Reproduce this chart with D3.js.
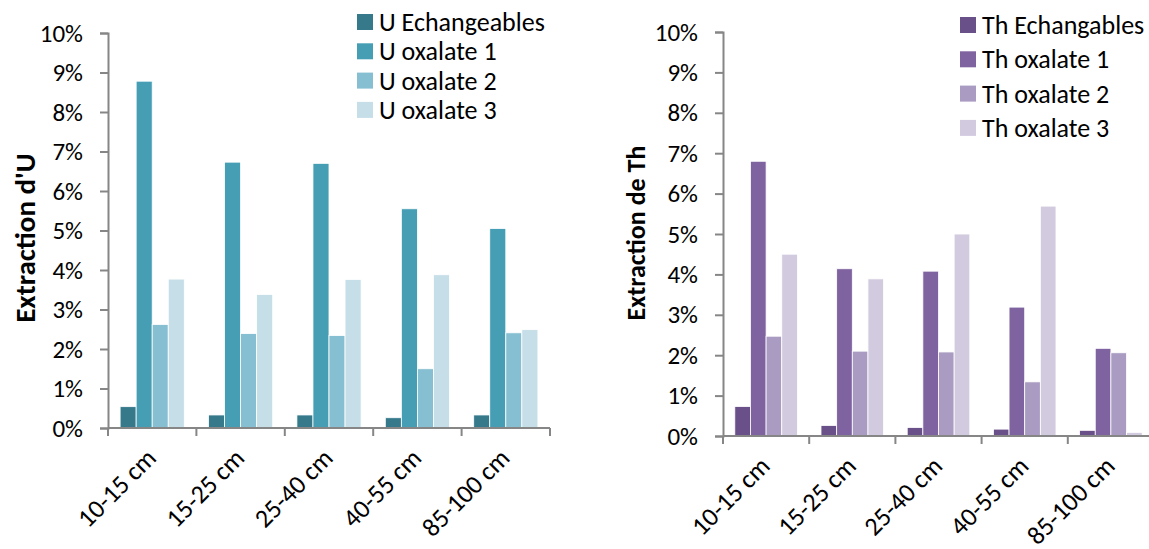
<!DOCTYPE html>
<html>
<head>
<meta charset="utf-8">
<script src="https://cdn.jsdelivr.net/npm/d3@7"></script>
<style>
  html, body { margin: 0; padding: 0; background: #fff; }
  svg { display: block; }
  text { font-family: Carlito, Lato, "Open Sans", sans-serif; fill: #000; }
</style>
</head>
<body>
<svg id="chart" width="1149" height="549"></svg>
<script>
// ---- data ----
const categories = ["10-15 cm", "15-25 cm", "25-40 cm", "40-55 cm", "85-100 cm"];
const yTicks = [0, 0.01, 0.02, 0.03, 0.04, 0.05, 0.06, 0.07, 0.08, 0.09, 0.10];

const uSeriesNames = ["U Echangeables", "U oxalate 1", "U oxalate 2", "U oxalate 3"];
const uEchangeables = [0.0054, 0.0033, 0.0033, 0.0026, 0.0033];
const uOxalate1     = [0.0878, 0.0673, 0.0670, 0.0555, 0.0505];
const uOxalate2     = [0.0262, 0.0239, 0.0234, 0.0150, 0.0241];
const uOxalate3     = [0.0377, 0.0338, 0.0376, 0.0388, 0.0249];
const uColors = ["#35798b", "#469eb5", "#87bfd2", "#c6dee7"];

const thSeriesNames = ["Th Echangables", "Th oxalate 1", "Th oxalate 2", "Th oxalate 3"];
const thEchangables = [0.0073, 0.0026, 0.0021, 0.0017, 0.0014];
const thOxalate1    = [0.0680, 0.0414, 0.0408, 0.0319, 0.0217];
const thOxalate2    = [0.0247, 0.0210, 0.0208, 0.0134, 0.0206];
const thOxalate3    = [0.0450, 0.0389, 0.0500, 0.0569, 0.0009];
const thColors = ["#6a5088", "#7f63a0", "#a99bc1", "#d2cbdf"];

const svg = d3.select("#chart");
const fmt = d3.format(".0%");

function drawChart(opt) {
  const g = svg.append("g");
  const x = d3.scaleBand().domain(categories).range([opt.x0, opt.x1]).paddingInner(0).paddingOuter(0);
  const bw = x.bandwidth();
  const x1 = d3.scaleBand().domain(opt.names).range([bw * 0.137, bw * 0.863]).padding(0);
  const y = d3.scaleLinear().domain([0, 0.10]).range([opt.y0, opt.yTop]);

  // bars
  opt.series.forEach((vals, si) => {
    g.append("g").selectAll("rect").data(vals).join("rect")
      .attr("x", (d, i) => x(categories[i]) + x1(opt.names[si]))
      .attr("width", x1.bandwidth())
      .attr("y", d => y(d))
      .attr("height", d => y(0) - y(d))
      .attr("fill", opt.colors[si])
      .attr("stroke", "#fff")
      .attr("stroke-width", 0.8);
  });

  // y axis
  const yAxis = d3.axisLeft(y).tickValues(yTicks).tickFormat(fmt).tickSize(8).tickPadding(17);
  const ya = g.append("g").attr("transform", `translate(${opt.x0},0)`).call(yAxis);
  ya.select(".domain").attr("stroke", "#868686").attr("stroke-width", 2);
  ya.selectAll(".tick line").attr("stroke", "#868686").attr("stroke-width", 2);
  ya.selectAll(".tick text").attr("font-size", 25).attr("font-family", "Carlito, Lato, sans-serif").attr("fill", "#000");

  // x axis baseline with tick marks at band edges
  const edges = categories.map(c => x(c)).concat([opt.x1]);
  g.append("line").attr("x1", opt.x0).attr("x2", opt.x1).attr("y1", y(0)).attr("y2", y(0))
    .attr("stroke", "#868686").attr("stroke-width", 2);
  g.append("g").selectAll("line").data(edges).join("line")
    .attr("x1", d => d).attr("x2", d => d).attr("y1", y(0)).attr("y2", y(0) + 8)
    .attr("stroke", "#868686").attr("stroke-width", 2);

  // x labels
  g.append("g").selectAll("text").data(categories).join("text")
    .attr("transform", d => `translate(${x(d) + bw / 2 - 1},${y(0) + 25}) rotate(-45)`)
    .attr("text-anchor", "end")
    .attr("dy", "0.35em")
    .attr("font-size", 26)
    .text(d => d);

  // y label
  g.append("text")
    .attr("transform", `translate(${opt.ylabX},${opt.ylabY}) rotate(-90)`)
    .attr("text-anchor", "middle")
    .attr("dy", "0.35em")
    .attr("font-size", opt.ylabSize)
    .attr("font-weight", "bold")
    .text(opt.ylabel);

  // legend
  const lg = g.append("g");
  opt.names.forEach((n, i) => {
    const cy = opt.legY + i * opt.legStep;
    lg.append("rect").attr("x", opt.legX).attr("y", cy - 8).attr("width", 16).attr("height", 16)
      .attr("fill", opt.colors[i]);
    lg.append("text").attr("x", opt.legX + 22).attr("y", cy).attr("dy", "0.35em")
      .attr("font-size", 26).text(n);
  });
}

drawChart({
  x0: 108, x1: 550, y0: 428, yTop: 33,
  names: uSeriesNames, colors: uColors,
  series: [uEchangeables, uOxalate1, uOxalate2, uOxalate3],
  ylabel: "Extraction d'U", ylabX: 25, ylabY: 238, ylabSize: 29,
  legX: 357, legY: 22, legStep: 29.3
});

drawChart({
  x0: 723, x1: 1154, y0: 436, yTop: 32,
  names: thSeriesNames, colors: thColors,
  series: [thEchangables, thOxalate1, thOxalate2, thOxalate3],
  ylabel: "Extraction de Th", ylabX: 636, ylabY: 233, ylabSize: 26,
  legX: 960, legY: 25, legStep: 34.3
});
</script>
</body>
</html>
